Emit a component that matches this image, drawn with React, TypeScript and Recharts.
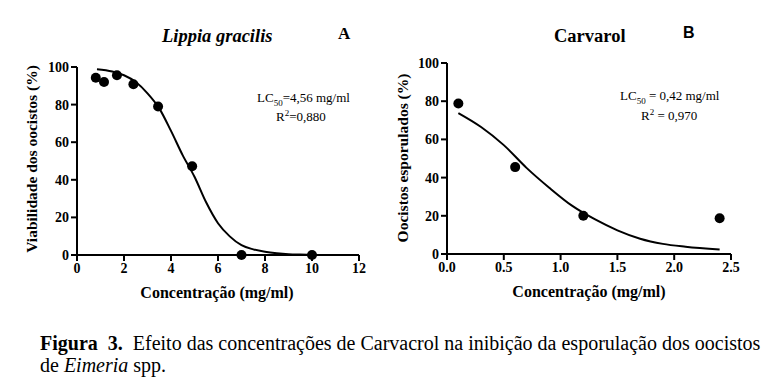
import { ComposedChart, Line, Scatter, XAxis, YAxis, Label } from 'recharts'

// Painel A - Lippia gracilis
const lippiaConc = [0.8, 1.15, 1.7, 2.4, 3.45, 4.9, 7, 10]
const lippiaViab = [94.3, 92, 95.6, 90.8, 79, 47.2, 0, 0]
const lippiaFitX = [0.85, 1.5, 2, 2.5, 3, 3.5, 4, 4.5, 5, 5.5, 6, 6.5, 7, 7.5, 8, 8.5, 9, 9.5, 10]
const lippiaFitY = [98.8, 97.6, 95.6, 92, 86, 78, 66, 53, 41.6, 27.9, 16.9, 9.9, 5.2, 3, 1.7, 0.9, 0.4, 0.2, 0.1]
const lippiaXTicks = [0, 2, 4, 6, 8, 10, 12]

// Painel B - Carvacrol
const carvConc = [0.1, 0.6, 1.2, 2.4]
const carvEsp = [78.8, 45.5, 20, 18.7]
const carvFitX = [0.1, 0.3, 0.5, 0.7, 0.9, 1.1, 1.3, 1.5, 1.7, 1.9, 2.1, 2.4]
const carvFitY = [73.8, 66.5, 57, 45.1, 34.7, 25.3, 18.2, 12.4, 8, 5.3, 3.8, 2.3]
const carvXTicks = [0, 0.5, 1, 1.5, 2, 2.5]

const yTicks = [0, 20, 40, 60, 80, 100]

const zip = (xs: number[], ys: number[]) => xs.map((x, i) => ({ x, y: ys[i] }))

const serif = "'Liberation Serif', 'Times New Roman', serif"
const tickStyle = { fontFamily: serif, fontSize: 14, fontWeight: 700, fill: '#000' }

const dot = (p: any) => <circle cx={p.cx} cy={p.cy} r={5} fill="#000" />

// rotated y-axis title, fixed position inside the chart's svg
const yTitle = (text: string, x: number, y: number) => () => (
  <text x={x} y={y} transform={`rotate(-90 ${x} ${y})`} textAnchor="middle" dominantBaseline="central"
    style={{ fontFamily: serif, fontSize: 15.5, fontWeight: 700, fill: '#000' }}>{text}</text>
)
const xTitle = (text: string, x: number, y: number) => () => (
  <text x={x} y={y} textAnchor="middle" dominantBaseline="central"
    style={{ fontFamily: serif, fontSize: 16, fontWeight: 700, fill: '#000' }}>{text}</text>
)

const abs = (left: number, top: number, extra: React.CSSProperties = {}): React.CSSProperties =>
  ({ position: 'absolute', left, top, whiteSpace: 'nowrap', fontFamily: serif, color: '#000', lineHeight: 1, ...extra })

export default function App() {
  const pointsA = zip(lippiaConc, lippiaViab)
  const fitA = zip(lippiaFitX, lippiaFitY)
  const pointsB = zip(carvConc, carvEsp)
  const fitB = zip(carvFitX, carvFitY)

  return (
    <div style={{ position: 'absolute', left: 0, top: 0, width: 783, height: 390, background: '#fff', overflow: 'hidden', fontFamily: serif }}>
      <div style={{ position: 'absolute', left: 0, top: 0 }}>
        <ComposedChart width={390} height={310} margin={{ top: 67, right: 31, bottom: 25, left: 10 }}>
          <XAxis type="number" dataKey="x" domain={[0, 12]} ticks={lippiaXTicks} allowDataOverflow height={30}
            stroke="#000" strokeWidth={2} tickSize={6} tickMargin={2} tick={tickStyle}>
            <Label content={xTitle('Concentração (mg/ml)', 217, 292)} />
          </XAxis>
          <YAxis type="number" dataKey="y" domain={[0, 100]} ticks={yTicks} width={67}
            stroke="#000" strokeWidth={2} tickSize={6} tickMargin={2} tick={tickStyle}>
            <Label content={yTitle('Viabilidade dos oocistos (%)', 31, 159)} />
          </YAxis>
          <Line data={fitA} dataKey="y" type="monotone" stroke="#000" strokeWidth={2} dot={false} isAnimationActive={false} />
          <Scatter data={pointsA} dataKey="y" fill="#000" shape={dot} isAnimationActive={false} />
        </ComposedChart>
      </div>

      <div style={{ position: 'absolute', left: 390, top: 0 }}>
        <ComposedChart width={393} height={310} margin={{ top: 63, right: 52, bottom: 26, left: 10 }}>
          <XAxis type="number" dataKey="x" domain={[0, 2.5]} ticks={carvXTicks} allowDataOverflow height={30}
            tickFormatter={(v: number) => v.toFixed(1)}
            stroke="#000" strokeWidth={2} tickSize={6} tickMargin={2} tick={tickStyle}>
            <Label content={xTitle('Concentração (mg/ml)', 199, 291)} />
          </XAxis>
          <YAxis type="number" dataKey="y" domain={[0, 100]} ticks={yTicks} width={47}
            stroke="#000" strokeWidth={2} tickSize={6} tickMargin={2} tick={tickStyle}>
            <Label content={yTitle('Oocistos esporulados (%)', 12, 158)} />
          </YAxis>
          <Line data={fitB} dataKey="y" type="monotone" stroke="#000" strokeWidth={2} dot={false} isAnimationActive={false} />
          <Scatter data={pointsB} dataKey="y" fill="#000" shape={dot} isAnimationActive={false} />
        </ComposedChart>
      </div>

      {/* titles */}
      <div style={abs(162, 27, { fontSize: 18.5, fontWeight: 700, fontStyle: 'italic' })}>Lippia gracilis</div>
      <div style={abs(338, 25, { fontSize: 17, fontWeight: 700 })}>A</div>
      <div style={abs(554, 27, { fontSize: 18.5, fontWeight: 700 })}>Carvarol</div>
      <div style={abs(683, 25, { fontSize: 16, fontWeight: 700, fontFamily: "'Liberation Sans', Arial, sans-serif" })}>B</div>

      {/* annotations */}
      <div style={abs(257, 91, { fontSize: 13 })}>LC<sub style={{ fontSize: 9 }}>50</sub>=4,56 mg/ml</div>
      <div style={abs(276, 109, { fontSize: 13 })}>R<sup style={{ fontSize: 9 }}>2</sup>=0,880</div>
      <div style={abs(620, 89, { fontSize: 13 })}>LC<sub style={{ fontSize: 9 }}>50</sub> = 0,42 mg/ml</div>
      <div style={abs(641, 108, { fontSize: 13 })}>R<sup style={{ fontSize: 9 }}>2</sup> = 0,970</div>

      {/* caption */}
      <div style={abs(40, 333, { fontSize: 20 })}>
        <b>Figura&nbsp; 3.</b>&nbsp; Efeito das concentrações de Carvacrol na inibição da esporulação dos oocistos
      </div>
      <div style={abs(40, 355, { fontSize: 20 })}>de <i>Eimeria</i> spp.</div>
    </div>
  )
}
